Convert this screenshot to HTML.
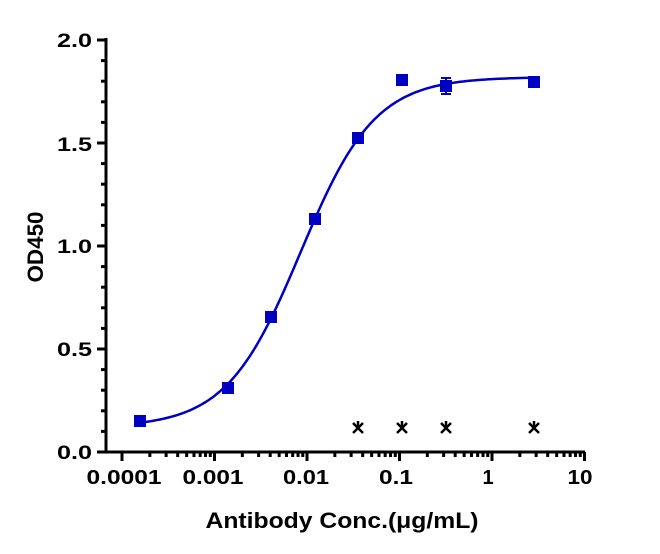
<!DOCTYPE html>
<html><head><style>body{margin:0;background:#fff}svg{display:block}text{font-family:"Liberation Sans",Arial,sans-serif;font-weight:bold;fill:#000}</style></head>
<body>
<svg id="s" width="660" height="554" xmlns="http://www.w3.org/2000/svg">
<g stroke="#000" stroke-width="3" fill="none">
<line x1="106" y1="38" x2="106" y2="453.5"/>
<line x1="104.5" y1="452" x2="585" y2="452"/>
</g>
<g id="ticks" stroke="#000" stroke-width="3"></g>
<g font-size="19" text-anchor="end" lengthAdjust="spacingAndGlyphs">
<text x="92" y="459" textLength="35" lengthAdjust="spacingAndGlyphs">0.0</text>
<text x="92" y="356" textLength="35" lengthAdjust="spacingAndGlyphs">0.5</text>
<text x="92" y="253" textLength="35" lengthAdjust="spacingAndGlyphs">1.0</text>
<text x="92" y="151" textLength="35" lengthAdjust="spacingAndGlyphs">1.5</text>
<text x="92" y="47" textLength="35" lengthAdjust="spacingAndGlyphs">2.0</text>
</g>
<g font-size="20" text-anchor="middle">
<text x="124" y="484" textLength="75" lengthAdjust="spacingAndGlyphs">0.0001</text>
<text x="213" y="484" textLength="61" lengthAdjust="spacingAndGlyphs">0.001</text>
<text x="306" y="484" textLength="46" lengthAdjust="spacingAndGlyphs">0.01</text>
<text x="396" y="484" textLength="34" lengthAdjust="spacingAndGlyphs">0.1</text>
<text x="488" y="484">1</text>
<text x="580" y="484" textLength="25" lengthAdjust="spacingAndGlyphs">10</text>
</g>
<text x="342" y="528" font-size="22" text-anchor="middle" textLength="273" lengthAdjust="spacingAndGlyphs">Antibody Conc.(μg/mL)</text>
<text transform="translate(43,247) rotate(-90)" font-size="22" text-anchor="middle" textLength="71" lengthAdjust="spacingAndGlyphs">OD450</text>
<path id="curve" fill="none" stroke="#0000c0" stroke-width="2.5"/>
<g fill="#0000c0">
<rect x="134" y="415" width="12" height="12"/><rect x="222" y="382" width="12" height="12"/><rect x="265" y="311" width="12" height="12"/><rect x="309" y="213" width="12" height="12"/><rect x="352" y="132" width="12" height="12"/><rect x="396" y="74" width="12" height="12"/><rect x="440" y="80" width="12" height="12"/><rect x="528" y="76" width="12" height="12"/>
</g>
<g stroke="#0000c0" stroke-width="2"><line x1="446" y1="78" x2="446" y2="94"/><line x1="441" y1="78" x2="451" y2="78"/><line x1="441" y1="94" x2="451" y2="94"/></g>
<g id="stars" stroke="#000" stroke-width="2.5"></g>
</svg>
<script>
var t=document.getElementById('ticks'),h='';
for(var d=0;d<5;d++){for(var k=1;k<10;k++){var x=122+92.5*(d+Math.log10(k));h+='<line x1="'+x+'" y1="452" x2="'+x+'" y2="'+(k==1?461:457)+'"/>';}}
h+='<line x1="584.5" y1="452" x2="584.5" y2="461"/>';
for(var i=0;i<=20;i++){var y=452-i*20.6;h+='<line x1="'+(i%5==0?97:101)+'" y1="'+y+'" x2="106" y2="'+y+'"/>';}
t.innerHTML=h;
var s='';[358,402,446,534].forEach(function(x){s+='<line x1="'+(x-5)+'" y1="423" x2="'+(x+5)+'" y2="433"/><line x1="'+(x+5)+'" y1="423" x2="'+(x-5)+'" y2="433"/><line x1="'+x+'" y1="421" x2="'+x+'" y2="428"/>';});
document.getElementById('stars').innerHTML=s;
var p='';for(var px=140;px<=536;px+=2){var u=(px-122)/92.5-4;var v=0.12+1.7/(1+Math.pow(10,(-2.069-u)*1.08));p+=(px==140?'M':'L')+px+' '+(452-206*v).toFixed(1);}
document.getElementById('curve').setAttribute('d',p);
</script>
</body></html>
